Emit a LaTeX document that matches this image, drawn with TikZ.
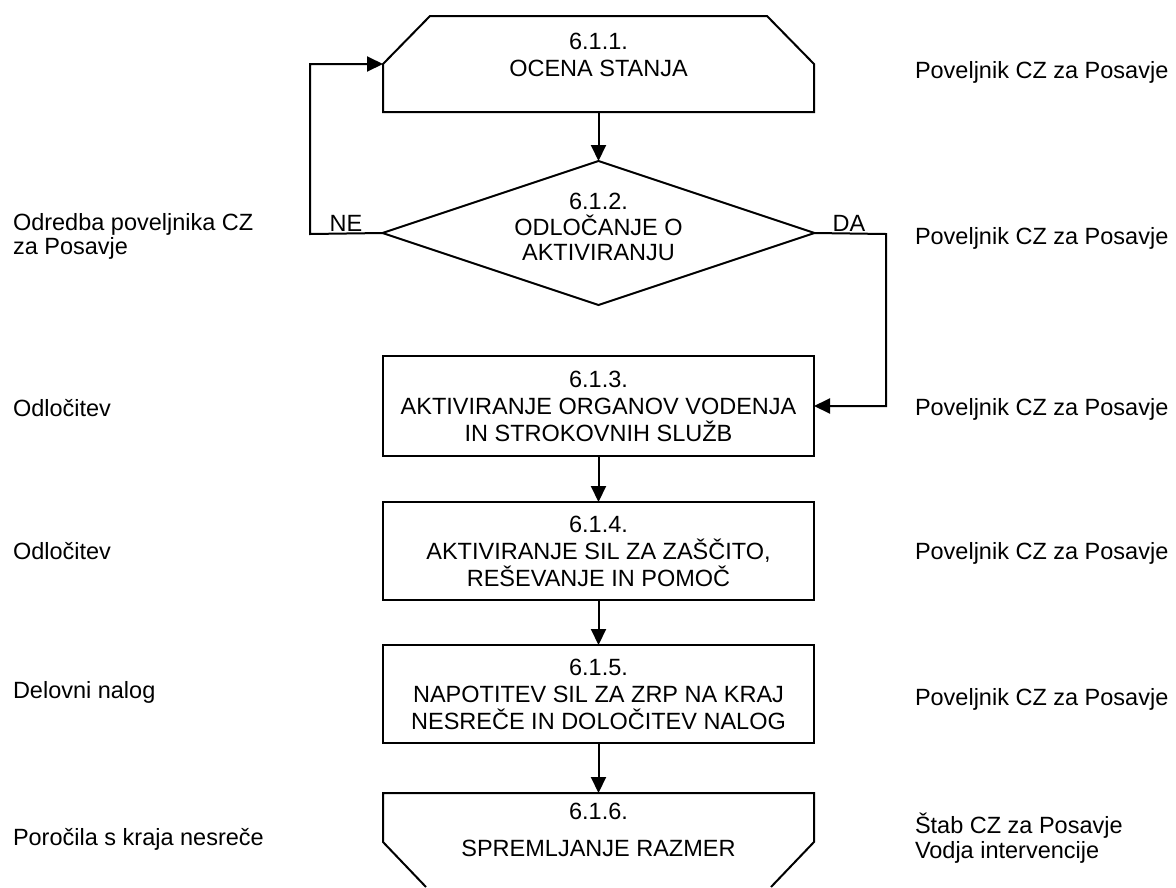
\documentclass[tikz,border=0pt]{standalone}
\usepackage{fontspec}
\setmainfont{Liberation Sans}
\usetikzlibrary{arrows.meta,shapes.geometric,calc}
\begin{document}
\begin{tikzpicture}[x=1pt,y=-1pt,
  every node/.style={font=\fontsize{23.5}{27}\selectfont, inner sep=0pt, outer sep=0pt},
  ln/.style={line width=2pt},
  arr/.style={ln,-{Triangle[length=16pt,width=15pt]}},
  frame/.style={minimum width=431pt},
  boxnode/.style={frame, draw, ln, minimum height=98pt, align=center},
  lbl/.style={anchor=base west},
  inside/.style={align=center}]
\useasboundingbox (0,0) rectangle (1176,887);

% 6.1.1
\node[frame, minimum height=96pt] (s1) at (598.5,64) {};
\node[inside] (t1) at (598.5,55) {6.1.1.\\OCENA STANJA};
\draw[ln] (s1.south west) -- (s1.west) -- ($(s1.north west)+(47,0)$) -- ($(s1.north east)+(-47,0)$) -- (s1.east) -- (s1.south east) -- cycle;

% 6.1.2
\node[diamond, draw, ln, minimum width=432pt, minimum height=144pt, inner sep=0pt] (d2) at (598.5,233) {};
\node[inside, font=\fontsize{23.5}{25.5}\selectfont] (t2) at (598.5,227) {6.1.2.\\ODLOČANJE O\\AKTIVIRANJU};

% boxes
\node[boxnode, minimum height=100pt] (b3) at (598.5,406) {6.1.3.\\AKTIVIRANJE ORGANOV VODENJA\\IN STROKOVNIH SLUŽB};
\node[boxnode] (b4) at (598.5,551) {6.1.4.\\AKTIVIRANJE SIL ZA ZAŠČITO,\\REŠEVANJE IN POMOČ};
\node[boxnode] (b5) at (598.5,694) {6.1.5.\\NAPOTITEV SIL ZA ZRP NA KRAJ\\NESREČE IN DOLOČITEV NALOG};

% 6.1.6
\node[frame, minimum height=100pt] (s6) at (598.5,843) {};
\node[inside, font=\fontsize{23.5}{37}\selectfont] (t6) at (598.5,829.5) {6.1.6.\\SPREMLJANJE RAZMER};
\draw[ln] ($(s6.north west)+(43,94)$) -- ($(s6.north west)+(0,49)$) -- (s6.north west) -- (s6.north east) -- ($(s6.north east)+(0,49)$) -- ($(s6.north east)+(-43,94)$);

% connectors
\draw[arr] (s1.south) -- (d2.north);
\draw[arr] (b3.south) -- (b4.north);
\draw[arr] (b4.south) -- (b5.north);
\draw[arr] (b5.south) -- (s6.north);
\coordinate (ne) at (310,234);
\coordinate (da) at (886,234);
\draw[arr] (d2.west) -- (ne) |- (s1.west);
\draw[arr] (d2.east) -- (da) |- (b3.east);
\node[anchor=base] (lne) at (346,231) {NE};
\node[anchor=base] (lda) at (849,231) {DA};

% left labels
\node[lbl] (l1a) at (13,230) {Odredba poveljnika CZ};
\node[lbl] (l1b) at (13,254) {za Posavje};
\node[lbl] (l3) at (13,416.5) {Odločitev};
\node[lbl] (l4) at (13,559.5) {Odločitev};
\node[lbl] (l5) at (13,698.5) {Delovni nalog};
\node[lbl] (l6) at (13,845.5) {Poročila s kraja nesreče};

% right labels
\node[lbl] (r1) at (915,78) {Poveljnik CZ za Posavje};
\node[lbl] (r2) at (915,244.5) {Poveljnik CZ za Posavje};
\node[lbl] (r3) at (915,415.5) {Poveljnik CZ za Posavje};
\node[lbl] (r4) at (915,559.5) {Poveljnik CZ za Posavje};
\node[lbl] (r5) at (915,705.5) {Poveljnik CZ za Posavje};
\node[lbl] (r6a) at (915,833.5) {Štab CZ za Posavje};
\node[lbl] (r6b) at (915,858.5) {Vodja intervencije};
\end{tikzpicture}
\end{document}
